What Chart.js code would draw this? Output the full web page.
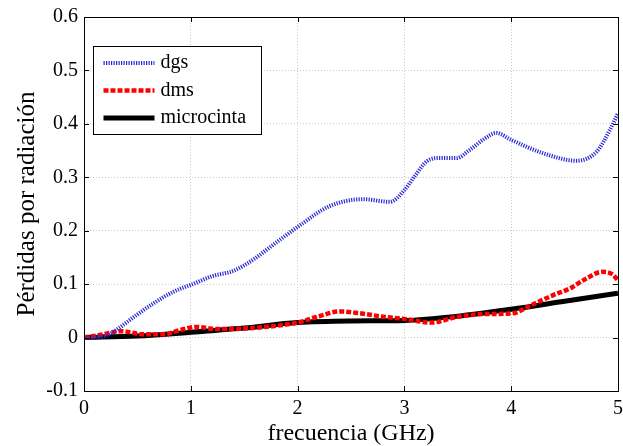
<!DOCTYPE html>
<html>
<head>
<meta charset="utf-8">
<script src="https://cdn.jsdelivr.net/npm/chart.js@4.4.1/dist/chart.umd.min.js"></script>
<style>
  html, body { margin: 0; padding: 0; background: #fff; }
  #wrap { width: 623px; height: 446px; position: relative; }
</style>
</head>
<body>
<div id="wrap"><canvas id="c" width="623" height="446"></canvas></div>
<script>
// ---- data ----
const seriesNames = ['dgs', 'dms', 'microcinta'];

const freqDgs = [0, 0.2, 0.3, 0.47, 0.65, 0.84, 1.03, 1.2, 1.4, 1.6, 1.8, 2.0, 2.3, 2.615, 2.865, 3.0, 3.1, 3.21, 3.33, 3.49, 3.61, 3.75, 3.86, 4.0, 4.3, 4.61, 4.8, 4.925, 5.0];
const dgs     = [0, 0.003, 0.014, 0.039, 0.064, 0.086, 0.101, 0.115, 0.125, 0.148, 0.178, 0.207, 0.246, 0.259, 0.254, 0.276, 0.303, 0.33, 0.336, 0.336, 0.351, 0.372, 0.383, 0.37, 0.345, 0.331, 0.348, 0.389, 0.42];

const freqDms = [0, 0.15, 0.35, 0.55, 0.75, 0.9, 1.05, 1.25, 1.5, 1.8, 2.0, 2.2, 2.4, 2.6, 2.8, 3.0, 3.25, 3.5, 3.75, 4.0, 4.2, 4.4, 4.55, 4.7, 4.85, 4.95, 5.0];
const dms     = [0, 0.005, 0.012, 0.006, 0.006, 0.014, 0.02, 0.016, 0.017, 0.022, 0.028, 0.04, 0.049, 0.045, 0.039, 0.035, 0.028, 0.039, 0.044, 0.045, 0.062, 0.08, 0.092, 0.11, 0.123, 0.118, 0.107];

const freqMicro = [0, 0.5, 1.0, 1.5, 2.0, 2.5, 3.0, 3.5, 4.0, 4.5, 5.0];
const micro     = [0, 0.003, 0.01, 0.018, 0.028, 0.031, 0.032, 0.04, 0.053, 0.068, 0.083];

const xTicks = [0, 1, 2, 3, 4, 5];
const yTicks = [-0.1, 0, 0.1, 0.2, 0.3, 0.4, 0.5, 0.6];

const xTitle = 'frecuencia (GHz)';
const yTitle = 'Pérdidas por radiación';

// ---- build ----
const pts = (xs, ys) => xs.map((x, i) => ({ x: x, y: ys[i] }));
const FONT = '"Liberation Serif", "Times New Roman", serif';

const datasets = [
  { label: seriesNames[0], data: pts(freqDgs, dgs), borderColor: '#2828d8', borderWidth: 4, borderDash: [1.2, 1.3] },
  { label: seriesNames[1], data: pts(freqDms, dms), borderColor: '#ff0000', borderWidth: 4.5, borderDash: [5, 2] },
  { label: seriesNames[2], data: pts(freqMicro, micro), borderColor: '#000000', borderWidth: 5, borderDash: [] }
].map(d => Object.assign(d, { pointRadius: 0, fill: false, cubicInterpolationMode: 'monotone', borderCapStyle: 'butt' }));

const framePlugin = {
  id: 'frame',
  afterDatasetsDraw(chart) {
    const { ctx, chartArea: a, scales } = chart;
    ctx.save();
    ctx.strokeStyle = '#000';
    ctx.lineWidth = 1;
    ctx.strokeRect(Math.round(a.left) + 0.5, Math.round(a.top) + 0.5, Math.round(a.right - a.left), Math.round(a.bottom - a.top));
    const tl = 5;
    ctx.beginPath();
    xTicks.forEach(v => {
      const px = Math.round(scales.x.getPixelForValue(v)) + 0.5;
      ctx.moveTo(px, a.bottom); ctx.lineTo(px, a.bottom - tl);
      ctx.moveTo(px, a.top); ctx.lineTo(px, a.top + tl);
    });
    yTicks.forEach(v => {
      const py = Math.round(scales.y.getPixelForValue(v)) + 0.5;
      ctx.moveTo(a.left, py); ctx.lineTo(a.left + tl, py);
      ctx.moveTo(a.right, py); ctx.lineTo(a.right - tl, py);
    });
    ctx.stroke();

    // legend box
    const bx = Math.round(a.left + 9) + 0.5, by = Math.round(a.top + 29) + 0.5, bw = 168, bh = 88;
    ctx.fillStyle = '#fff';
    ctx.fillRect(bx, by, bw, bh);
    ctx.strokeRect(bx, by, bw, bh);
    ctx.font = '20px ' + FONT;
    ctx.textBaseline = 'middle';
    ctx.textAlign = 'left';
    chart.data.datasets.forEach((d, i) => {
      const y = by + 16.5 + i * 27.5;
      ctx.beginPath();
      ctx.strokeStyle = d.borderColor;
      ctx.lineWidth = d.borderWidth;
      ctx.setLineDash(d.borderDash || []);
      ctx.lineCap = 'butt';
      ctx.moveTo(bx + 10, y); ctx.lineTo(bx + 61, y);
      ctx.stroke();
      ctx.setLineDash([]);
      ctx.fillStyle = '#000';
      ctx.fillText(d.label, bx + 67, y);
    });
    ctx.restore();
  }
};

new Chart(document.getElementById('c'), {
  type: 'line',
  data: { datasets: datasets },
  options: {
    responsive: false,
    animation: false,
    devicePixelRatio: 1,
    layout: { padding: { left: 0, right: 5, top: 17, bottom: 0 } },
    plugins: { legend: { display: false }, tooltip: { enabled: false } },
    scales: {
      x: {
        type: 'linear', min: 0, max: 5,
        afterBuildTicks: s => { s.ticks = xTicks.map(v => ({ value: v })); },
        afterFit: s => { s.height = 55; s.paddingLeft = 0; s.paddingRight = 0; },
        ticks: { color: '#000', font: { family: FONT, size: 20 }, padding: 6, maxRotation: 0, callback: v => String(v) },
        grid: { color: '#c8c8c8', lineWidth: 1, drawTicks: false },
        border: { display: false, dash: [1, 2] },
        title: { display: true, text: xTitle, color: '#000', font: { family: FONT, size: 24, lineHeight: 1 }, padding: { top: 0, bottom: 0 } }
      },
      y: {
        type: 'linear', min: -0.1, max: 0.6,
        afterBuildTicks: s => { s.ticks = yTicks.map(v => ({ value: v })); },
        afterFit: s => { s.width = 84; s.paddingTop = 0; s.paddingBottom = 0; },
        ticks: { color: '#000', font: { family: FONT, size: 20 }, padding: 6, callback: v => String(Math.round(v * 10) / 10) },
        grid: { color: '#c8c8c8', lineWidth: 1, drawTicks: false },
        border: { display: false, dash: [1, 2] },
        title: { display: true, text: yTitle, color: '#000', font: { family: FONT, size: 25, lineHeight: 1 }, padding: { top: 15, bottom: 0 } }
      }
    }
  },
  plugins: [framePlugin]
});
</script>
</body>
</html>
